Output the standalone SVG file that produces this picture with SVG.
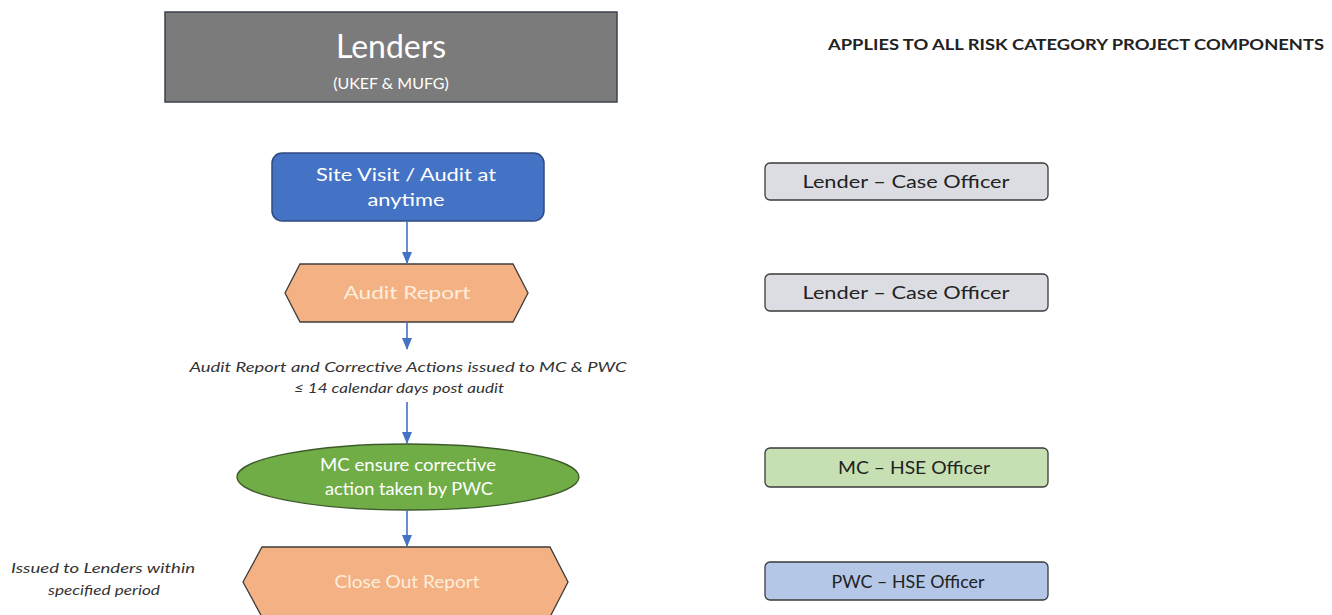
<svg xmlns="http://www.w3.org/2000/svg" width="1332" height="615" viewBox="0 0 1332 615">
<style>
  text { font-family: Lato, "Open Sans", "Liberation Sans", sans-serif; }
  .node-w { fill: #ffffff; text-anchor: middle; font-size: 18px; }
  .node-o { fill: #fdeedd; text-anchor: middle; font-size: 18px; }
  .role { fill: #dcdde3; stroke: #3a3a3a; stroke-width: 1.3; }
  .role-t { fill: #222222; text-anchor: middle; font-size: 18px; }
  .note { fill: #333333; font-style: italic; font-size: 14px; text-anchor: middle; }
  .conn { stroke: #4472c4; stroke-width: 1.6; fill: none; marker-end: url(#ah); }
</style>
<defs>
  <marker id="ah" markerWidth="12" markerHeight="10" refX="11" refY="5" orient="auto" markerUnits="userSpaceOnUse" viewBox="0 0 12 10">
    <path d="M0,0 L12,5 L0,10 Z" fill="#4472c4"/>
  </marker>
</defs>
<rect width="1332" height="615" fill="#ffffff"/>

<g id="lenders">
  <rect x="165" y="12" width="452" height="90" fill="#7b7b7b" stroke="#3c4250" stroke-width="1.5"/>
  <text x="391" y="58" fill="#ffffff" font-size="32" text-anchor="middle">Lenders</text>
  <text x="391" y="89" fill="#ffffff" font-size="16" text-anchor="middle">(UKEF &amp; MUFG)</text>
</g>

<g id="header">
  <text x="1076" y="50" fill="#222222" font-size="15" font-weight="bold" text-anchor="middle" textLength="496" lengthAdjust="spacingAndGlyphs">APPLIES TO ALL RISK CATEGORY PROJECT COMPONENTS</text>
</g>

<g id="site-visit">
  <rect x="272" y="153" width="272" height="68" rx="10" fill="#4472c4" stroke="#2f4a80" stroke-width="1.5"/>
  <text class="node-w" x="406" y="181" textLength="180" lengthAdjust="spacingAndGlyphs">Site Visit / Audit at</text>
  <text class="node-w" x="406" y="206" textLength="77" lengthAdjust="spacingAndGlyphs">anytime</text>
</g>

<g id="audit-report">
  <polygon points="285,293 300,264 513,264 528,293 513,322 300,322" fill="#f4b183" stroke="#3d3d3d" stroke-width="1.3"/>
  <text class="node-o" x="407" y="299" textLength="127" lengthAdjust="spacingAndGlyphs">Audit Report</text>
</g>

<g id="audit-note">
  <text class="note" x="408" y="372" textLength="437" lengthAdjust="spacingAndGlyphs">Audit Report and Corrective Actions issued to MC &amp; PWC</text>
  <text class="note" x="399" y="393" textLength="210" lengthAdjust="spacingAndGlyphs">≤ 14 calendar days post audit</text>
</g>

<g id="mc-ensure">
  <ellipse cx="408" cy="477" rx="171" ry="33" fill="#70ad47" stroke="#3d5a2a" stroke-width="1.3"/>
  <text class="node-w" x="408" y="471" fill="#e8f4dc" textLength="176" lengthAdjust="spacingAndGlyphs">MC ensure corrective</text>
  <text class="node-w" x="409" y="495" fill="#e8f4dc" textLength="168" lengthAdjust="spacingAndGlyphs">action taken by PWC</text>
</g>

<g id="close-out">
  <polygon points="243,582 262,547 550,547 568,582 550,617 262,617" fill="#f4b183" stroke="#3d3d3d" stroke-width="1.3"/>
  <text class="node-o" x="407" y="588" textLength="145" lengthAdjust="spacingAndGlyphs">Close Out Report</text>
</g>

<g id="issued-note">
  <text class="note" x="103" y="573" textLength="184" lengthAdjust="spacingAndGlyphs">Issued to Lenders within</text>
  <text class="note" x="104" y="595" textLength="112" lengthAdjust="spacingAndGlyphs">specified period</text>
</g>

<g id="role-1">
  <rect class="role" x="765" y="163" width="283" height="37" rx="5"/>
  <text class="role-t" x="906" y="188" textLength="207" lengthAdjust="spacingAndGlyphs">Lender  – Case Officer</text>
</g>
<g id="role-2">
  <rect class="role" x="765" y="274" width="283" height="37" rx="5"/>
  <text class="role-t" x="906" y="299" textLength="207" lengthAdjust="spacingAndGlyphs">Lender  – Case Officer</text>
</g>
<g id="role-3">
  <rect class="role" x="765" y="448" width="283" height="39" rx="5" style="fill:#c6e0b4"/>
  <text class="role-t" x="914" y="474" textLength="152" lengthAdjust="spacingAndGlyphs">MC – HSE Officer</text>
</g>
<g id="role-4">
  <rect class="role" x="765" y="562" width="283" height="38" rx="5" style="fill:#b4c7e7"/>
  <text class="role-t" x="908" y="588" textLength="153" lengthAdjust="spacingAndGlyphs">PWC – HSE Officer</text>
</g>

<g id="connectors">
  <line class="conn" x1="407" y1="221" x2="407" y2="263"/>
  <line class="conn" x1="407" y1="322" x2="407" y2="349"/>
  <line class="conn" x1="407" y1="402" x2="407" y2="443"/>
  <line class="conn" x1="407" y1="510" x2="407" y2="546"/>
</g>
</svg>
